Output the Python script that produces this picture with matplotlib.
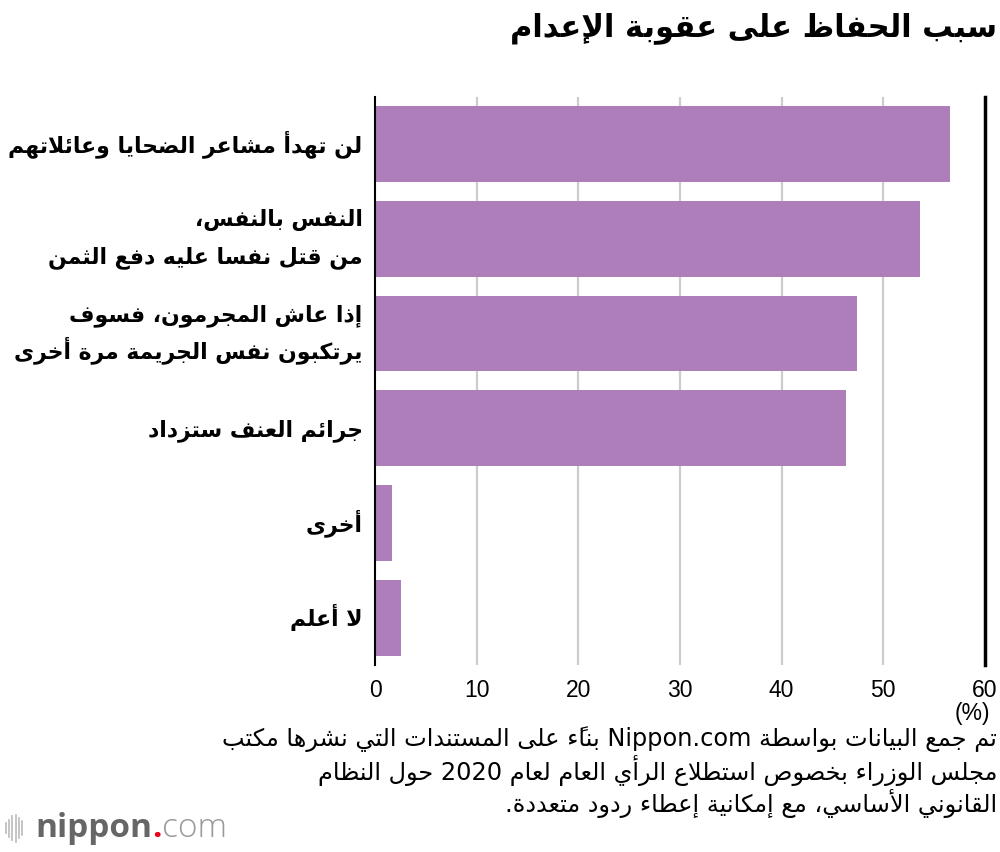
import re
import matplotlib
matplotlib.use("Agg")
import matplotlib.pyplot as plt
from matplotlib.lines import Line2D

# ---------------- data ----------------
title = "سبب الحفاظ على عقوبة الإعدام"
reasons = [
    "لن تهدأ مشاعر الضحايا وعائلاتهم",
    "النفس بالنفس،\nمن قتل نفسا عليه دفع الثمن",
    "إذا عاش المجرمون، فسوف\nيرتكبون نفس الجريمة مرة أخرى",
    "جرائم العنف ستزداد",
    "أخرى",
    "لا أعلم",
]
shares = [56.6, 53.6, 47.4, 46.3, 1.7, 2.6]
xticks = [0, 10, 20, 30, 40, 50, 60]
unit = "(%)"
caption = ("تم جمع البيانات بواسطة Nippon.com بناءً على المستندات التي نشرها مكتب\n"
           "مجلس الوزراء بخصوص استطلاع الرأي العام لعام 2020 حول النظام\n"
           "القانوني الأساسي، مع إمكانية إعطاء ردود متعددة.")

BAR_COLOR = "#ae7eba"

# ---------------- minimal arabic shaping (no raqm in matplotlib) ----------------
RIGHT_JOIN = {0x0622: 0xFE81, 0x0623: 0xFE83, 0x0624: 0xFE85, 0x0625: 0xFE87, 0x0627: 0xFE8D,
              0x0629: 0xFE93, 0x062F: 0xFEA9, 0x0630: 0xFEAB, 0x0631: 0xFEAD, 0x0632: 0xFEAF,
              0x0648: 0xFEED, 0x0649: 0xFEEF}
DUAL_JOIN = {0x0626: 0xFE89, 0x0628: 0xFE8F, 0x062A: 0xFE95, 0x062B: 0xFE99, 0x062C: 0xFE9D,
             0x062D: 0xFEA1, 0x062E: 0xFEA5, 0x0633: 0xFEB1, 0x0634: 0xFEB5, 0x0635: 0xFEB9,
             0x0636: 0xFEBD, 0x0637: 0xFEC1, 0x0638: 0xFEC5, 0x0639: 0xFEC9, 0x063A: 0xFECD,
             0x0641: 0xFED1, 0x0642: 0xFED5, 0x0643: 0xFED9, 0x0644: 0xFEDD, 0x0645: 0xFEE1,
             0x0646: 0xFEE5, 0x0647: 0xFEE9, 0x064A: 0xFEF1}
LAM_ALEF = {0x0622: 0xFEF5, 0x0623: 0xFEF7, 0x0625: 0xFEF9, 0x0627: 0xFEFB}


def is_mark(c):
    return 0x064B <= c <= 0x0652 or c == 0x0670


def joins(item):
    kind, c, _ = item
    return kind == "la" or c in DUAL_JOIN or c in RIGHT_JOIN


def shape_clusters(text):
    cps = [ord(ch) for ch in text]
    items = []
    i = 0
    while i < len(cps):
        c = cps[i]
        if is_mark(c) and items:
            items[-1][2].append(c)
            i += 1
            continue
        if c == 0x0644 and i + 1 < len(cps) and cps[i + 1] in LAM_ALEF:
            items.append(["la", cps[i + 1], []])
            i += 2
            continue
        items.append(["ch", c, []])
        i += 1

    out = []
    for k, it in enumerate(items):
        kind, c, marks = it
        prev = items[k - 1] if k > 0 else None
        nxt = items[k + 1] if k + 1 < len(items) else None
        jp = prev is not None and prev[0] == "ch" and prev[1] in DUAL_JOIN and joins(it)
        jn = kind == "ch" and c in DUAL_JOIN and nxt is not None and joins(nxt)
        if kind == "la":
            g = LAM_ALEF[c] + (1 if jp else 0)
        elif c in DUAL_JOIN:
            g = DUAL_JOIN[c] + (3 if jp and jn else 1 if jp else 2 if jn else 0)
        elif c in RIGHT_JOIN:
            g = RIGHT_JOIN[c] + (1 if jp else 0)
        else:
            g = c
        out.append(chr(g) + "".join(chr(m) for m in marks))
    return out


LTR_RUN = re.compile(r"([A-Za-z0-9][A-Za-z0-9.]*[A-Za-z0-9])")


def rtl(text):
    lines = []
    for line in text.split("\n"):
        runs = []
        for part in LTR_RUN.split(line):
            if not part:
                continue
            if LTR_RUN.fullmatch(part):
                runs.append(part)
            else:
                runs.append("".join(reversed(shape_clusters(part))))
        lines.append("".join(reversed(runs)))
    return "\n".join(lines)


# ---------------- figure ----------------
plt.rcParams["font.family"] = ["DejaVu Sans"]

fig = plt.figure(figsize=(10, 8.52), dpi=100)
ax = fig.add_axes([0.375, 0.2195, 0.61, 0.667])

y = list(range(len(reasons)))
ax.barh(y, shares, height=0.8, color=BAR_COLOR, zorder=2)
ax.set_ylim(len(reasons) - 0.5, -0.5)
ax.set_xlim(xticks[0], xticks[-1])

for t in xticks:
    if t == 0:
        ax.axvline(t, color="black", lw=1.5, zorder=3, clip_on=False)
    elif t == xticks[-1]:
        ax.axvline(t, color="black", lw=2.5, zorder=3, clip_on=False)
    else:
        ax.axvline(t, color="#cccccc", lw=1.6, zorder=1)

for s in ax.spines.values():
    s.set_visible(False)

ax.set_xticks(xticks)
ax.set_xticklabels([str(t) for t in xticks], family="Liberation Sans", fontsize=16.5)
ax.tick_params(axis="x", length=0, pad=10)
ax.set_yticks([])

# category labels, one text per line so the spacing is even
for yi, label in zip(y, reasons):
    lines = rtl(label).split("\n")
    offsets = [-5.8] if len(lines) == 1 else [9.0, -17.6]
    for line, dy in zip(lines, offsets):
        ax.annotate(line, xy=(0, yi), xycoords=("axes fraction", "data"),
                    xytext=(-9, dy), textcoords="offset points",
                    ha="right", va="baseline", fontsize=15.8, fontweight="bold")

fig.text(0.997, 0.967, rtl(title), ha="right", va="center", fontsize=22, fontweight="bold")
fig.text(0.990, 0.163, unit, ha="right", va="center", family="Liberation Sans", fontsize=16.5)
fig.text(0.997, 0.094, rtl(caption), ha="right", va="center", fontsize=17.3,
         multialignment="right", linespacing=1.13)

# nippon.com logo
for i, h in enumerate([0.012, 0.020, 0.028, 0.032, 0.024, 0.016]):
    xx = 0.006 + i * 0.0032
    fig.add_artist(Line2D([xx, xx], [0.028 - h / 2, 0.028 + h / 2], color="#bbbbbb", lw=1.2))
t1 = fig.text(0.035, 0.028, "nippon", ha="left", va="center", family="Open Sans",
              fontweight="bold", fontsize=24, color="#666666")
t2 = ax.annotate(".", xy=(1, 0), xycoords=t1, va="bottom", family="Open Sans",
                 fontweight="bold", fontsize=24, color="#e60012", annotation_clip=False)
ax.annotate("com", xy=(1, 0), xycoords=t2, va="bottom", family="Open Sans",
            fontweight="light", fontsize=24, color="#999999", annotation_clip=False)

fig.savefig("out.png", dpi=100, facecolor="white")
